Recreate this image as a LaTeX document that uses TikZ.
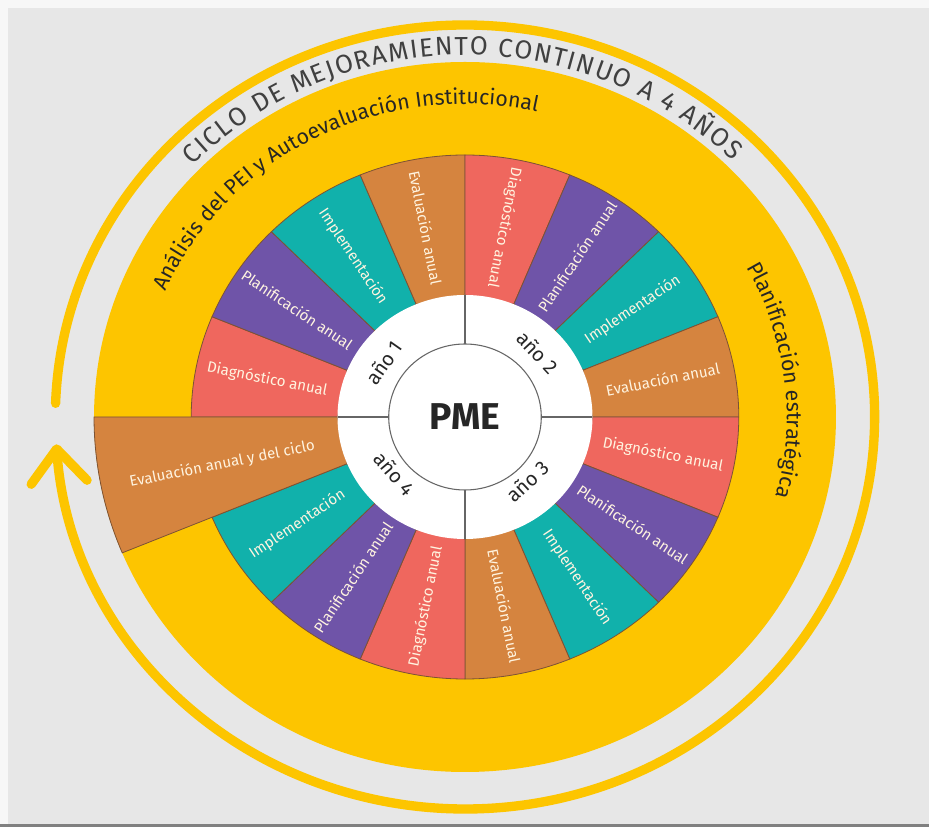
\documentclass[tikz,border=0pt]{standalone}
\usepackage{fontspec}
\setmainfont{Fira Sans}
\usetikzlibrary{arrows.meta,decorations.text}

\definecolor{ringyellow}{RGB}{253,197,0}
\definecolor{diagred}{RGB}{239,103,94}
\definecolor{planpurple}{RGB}{111,84,168}
\definecolor{impteal}{RGB}{17,177,171}
\definecolor{evalbrown}{RGB}{213,132,63}
\definecolor{bggrey}{RGB}{231,231,231}
\definecolor{edgebrown}{RGB}{125,82,52}
\definecolor{labelcream}{RGB}{255,244,224}

\newcommand{\wedgefont}{\fontsize{11.3}{12}\selectfont}
\newcommand{\arcfont}{\fontsize{16}{17}\selectfont}
\newcommand{\ciclofont}{\fontsize{19.5}{20}\selectfont}

\begin{document}
\begin{tikzpicture}[
    x=0.75pt, y=0.75pt,
    wedge/.style={draw=edgebrown, line width=0.6pt},
    wedgelabel/.style={font=\wedgefont, text=labelcream, inner sep=0pt},
    yearlabel/.style={font=\fontsize{15}{16}\selectfont, text=black!85, inner sep=0pt},
    divider/.style={draw=black!60, line width=0.8pt},
    cyclearrow/.style={draw=ringyellow, line width=7pt, line cap=round, -{Straight Barb[length=25pt, width=42pt, round]}},
    arclabel/.style={decorate, decoration={text along path, text align=center, text color=black!85, text={|\arcfont|#1}}}
]

% Background
\fill[black!3] (-465,-410) rectangle (464,417);
\fill[bggrey] (-457,-407) rectangle (464,409);
\fill[black!50] (-465,-410) rectangle (464,-407);
\useasboundingbox (-465,-410) rectangle (464,417);

\begin{scope}[xscale=1.045]
% Yellow disc and cycle arrow
\fill[ringyellow] (0,0) circle[radius=355];
\draw[cyclearrow] (178:392) arc[start angle=178, end angle=-176, radius=392];

% Wedges: 4 years x 4 phases
\foreach \yr in {0,...,3}{
  \foreach \ph/\col in {0/diagred,1/planpurple,2/impteal,3/evalbrown}{
    \pgfmathsetmacro{\a}{180-90*\yr-22.5*\ph}
    \pgfmathsetmacro{\b}{\a-22.5}
    \pgfmathsetmacro{\rout}{(\yr==3 && \ph==3) ? 355 : 262}
    \draw[wedge, fill=\col] (\a:122) -- (\a:\rout) arc[start angle=\a, end angle=\b, radius=\rout] -- (\b:122) -- cycle;
  }
}

% Hub
\fill[white] (0,0) circle[radius=122];
\draw[divider] (0,0) circle[radius=73];
\foreach \d in {0,90,180,270}
  \draw[divider] (\d:73) -- (\d:122);

% Wedge labels
\foreach \m/\rot/\txt [count=\n] in {
    168.75/348.75/Diagnóstico anual, 146.25/326.25/Planificación anual,
    123.75/303.75/Implementación, 101.25/281.25/Evaluación anual,
    78.75/258.75/Diagnóstico anual, 56.25/56.25/Planificación anual,
    33.75/33.75/Implementación, 11.25/11.25/Evaluación anual,
    -11.25/-11.25/Diagnóstico anual, -33.75/-33.75/Planificación anual,
    -56.25/-56.25/Implementación, -78.75/-78.75/Evaluación anual,
    -101.25/78.75/Diagnóstico anual, -123.75/56.25/Planificación anual,
    -146.25/33.75/Implementación}
  \node[wedgelabel, rotate=\rot] (phase-\n) at (\m:193) {\txt};
\node[wedgelabel, rotate=11.25] (phase-16) at (-168.5:237) {Evaluación anual y del ciclo};

% Year labels
\foreach \ang/\rot/\r/\n in {145/55/95/1, 43/-47/95/2, -47/43/88/3, -140/-50/88/4}
  \node[yearlabel, rotate=\rot] (year-\n) at (\ang:\r) {año \n};
\node[font=\fontsize{28}{30}\selectfont\bfseries, text=black!85] (pme) at (0,0) {PME};

% Texts along arcs
\path[arclabel={Análisis del PEI y Autoevaluación Institucional}] (170:313) arc[start angle=170, end angle=64, radius=313];
\path[arclabel={Planificación estratégica}] (40:308) arc[start angle=40, end angle=-26, radius=308];
\path[decorate, decoration={text along path, text align=fit to path, text color=black!75,
    text={|\ciclofont|CICLO DE MEJORAMIENTO CONTINUO A 4 AÑOS}}] (136:362) arc[start angle=136, end angle=45, radius=362];
\end{scope}

\end{tikzpicture}
\end{document}
